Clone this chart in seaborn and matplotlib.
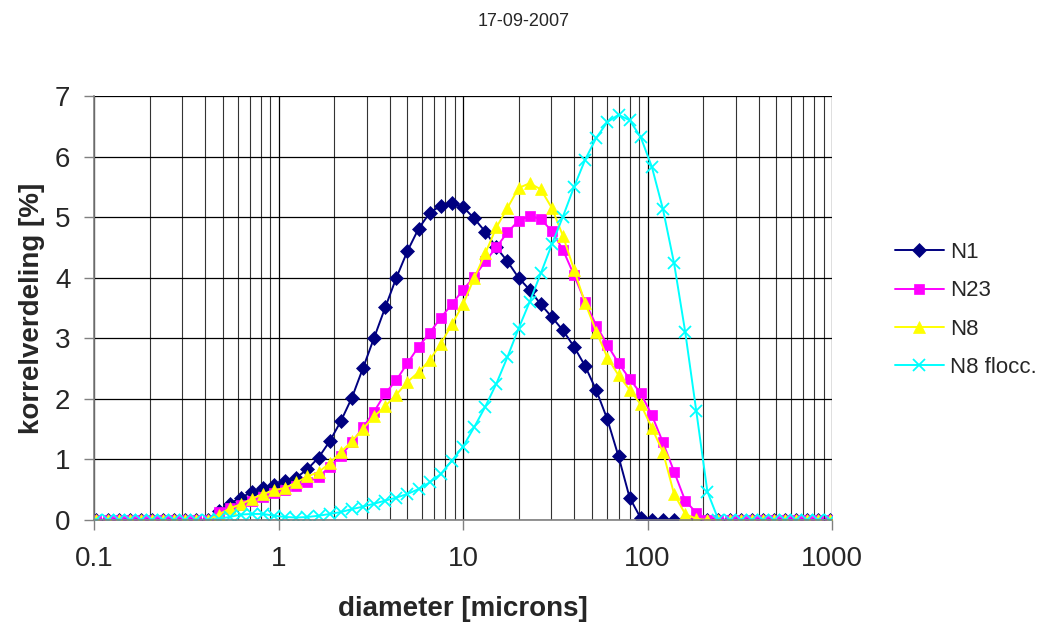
import numpy as np
import pandas as pd
import matplotlib
matplotlib.use("Agg")
import matplotlib.pyplot as plt
import seaborn as sns
from matplotlib.ticker import FixedLocator, NullFormatter, LogLocator

# diameters (microns)
diameter = [0.1031, 0.1184, 0.1360, 0.1563, 0.1795, 0.2062, 0.2368, 0.2721, 0.3125, 0.3590,
            0.4124, 0.4737, 0.5441, 0.6250, 0.7179, 0.8247, 0.9473, 1.088, 1.250, 1.436,
            1.649, 1.895, 2.176, 2.500, 2.872, 3.299, 3.789, 4.353, 5.000, 5.743,
            6.598, 7.579, 8.706, 10.00, 11.49, 13.20, 15.16, 17.41, 20.00, 22.97,
            26.39, 30.31, 34.82, 40.00, 45.95, 52.78, 60.63, 69.64, 80.00, 91.90,
            105.6, 121.3, 139.3, 160.0, 183.8, 211.1, 242.5, 278.6, 320.0, 367.6,
            422.2, 485.0, 557.2, 640.0, 735.2, 844.5, 970.1]

zeros11 = [0.0] * 11

n1 = zeros11 + [0.15, 0.27, 0.37, 0.46, 0.53, 0.57, 0.64, 0.70, 0.84, 1.03,
                1.30, 1.63, 2.02, 2.51, 3.01, 3.51, 4.00, 4.44, 4.81, 5.07,
                5.19, 5.23, 5.17, 4.98, 4.76, 4.50, 4.27, 4.00, 3.80, 3.56,
                3.35, 3.13, 2.86, 2.54, 2.14, 1.66, 1.05, 0.37, 0.03, 0.0,
                0.0, 0.0, 0.0, 0.0, 0.0, 0.0, 0.0, 0.0, 0.0, 0.0,
                0.0, 0.0, 0.0, 0.0, 0.0, 0.0]

n23 = zeros11 + [0.13, 0.19, 0.25, 0.31, 0.38, 0.45, 0.50, 0.56, 0.62, 0.71,
                 0.88, 1.06, 1.28, 1.53, 1.79, 2.09, 2.31, 2.59, 2.86, 3.09,
                 3.34, 3.56, 3.80, 4.01, 4.27, 4.50, 4.75, 4.94, 5.02, 4.97,
                 4.77, 4.46, 4.04, 3.60, 3.21, 2.89, 2.59, 2.33, 2.09, 1.73,
                 1.28, 0.80, 0.32, 0.12, 0.0, 0.0, 0.0, 0.0, 0.0, 0.0,
                 0.0, 0.0, 0.0, 0.0, 0.0, 0.0]

n8 = zeros11 + [0.09, 0.19, 0.26, 0.35, 0.43, 0.49, 0.53, 0.62, 0.72, 0.79,
                0.94, 1.12, 1.30, 1.51, 1.71, 1.88, 2.07, 2.28, 2.44, 2.64,
                2.91, 3.23, 3.56, 3.99, 4.40, 4.83, 5.15, 5.48, 5.56, 5.46,
                5.15, 4.69, 4.13, 3.58, 3.11, 2.68, 2.39, 2.15, 1.91, 1.52,
                1.12, 0.43, 0.10, 0.02, 0.0, 0.0, 0.0, 0.0, 0.0, 0.0,
                0.0, 0.0, 0.0, 0.0, 0.0, 0.0]

n8_flocc = zeros11 + [0.02, 0.05, 0.09, 0.10, 0.10, 0.07, 0.05, 0.04, 0.05, 0.07,
                      0.10, 0.13, 0.18, 0.22, 0.27, 0.32, 0.37, 0.43, 0.51, 0.62,
                      0.76, 0.98, 1.21, 1.53, 1.87, 2.25, 2.69, 3.16, 3.60, 4.07,
                      4.55, 5.01, 5.50, 5.95, 6.31, 6.57, 6.69, 6.60, 6.32, 5.83,
                      5.13, 4.24, 3.11, 1.80, 0.47, 0.0, 0.0, 0.0, 0.0, 0.0,
                      0.0, 0.0, 0.0, 0.0, 0.0, 0.0]

series_names = ["N1", "N23", "N8", "N8 flocc."]
series_values = [n1, n23, n8, n8_flocc]
series_colors = ["#000080", "#FF00FF", "#FFFF00", "#00FFFF"]
series_markers = ["D", "s", "^", "x"]
series_msize = [7, 6.5, 8.5, 8]

x_tick_values = [0.1, 1, 10, 100, 1000]
x_tick_labels = ["0.1", "1", "10", "100", "1000"]
y_tick_values = [0, 1, 2, 3, 4, 5, 6, 7]

title_text = "17-09-2007"
x_label = "diameter [microns]"
y_label = "korrelverdeling [%]"

sns.set_theme(style="white")
plt.rcParams["font.family"] = ["Liberation Sans", "DejaVu Sans"]

frames = []
for name, vals in zip(series_names, series_values):
    frames.append(pd.DataFrame({"diameter": diameter, "value": vals, "series": name}))
df = pd.concat(frames, ignore_index=True)

fig = plt.figure(figsize=(10.47, 6.28), dpi=100)
ax = fig.add_axes([94 / 1047, 1 - 520 / 628, (832 - 94) / 1047, (520 - 96) / 628])

for name, color, marker, ms in zip(series_names, series_colors, series_markers, series_msize):
    sub = df[df["series"] == name]
    sns.lineplot(data=sub, x="diameter", y="value", ax=ax, color=color,
                 marker=marker, markersize=ms, linewidth=1.4,
                 markeredgecolor=color, markeredgewidth=1.3 if marker == "x" else 0.5,
                 label=name, estimator=None, sort=False)

ax.set_xscale("log")
ax.set_xlim(0.1, 1000)
ax.set_ylim(0, 7)

ax.xaxis.set_major_locator(FixedLocator(x_tick_values))
ax.set_xticklabels(x_tick_labels)
ax.xaxis.set_minor_locator(LogLocator(base=10, subs=np.arange(2, 10)))
ax.xaxis.set_minor_formatter(NullFormatter())
ax.set_yticks(y_tick_values)
ax.set_yticklabels([str(v) for v in y_tick_values])

ax.grid(True, which="major", axis="both", color="black", linewidth=0.9)
ax.grid(True, which="minor", axis="x", color="#333333", linewidth=0.8)
ax.set_axisbelow(True)

for side in ["top", "right"]:
    ax.spines[side].set_visible(False)
for side in ["left", "bottom"]:
    ax.spines[side].set_visible(True)
    ax.spines[side].set_color("#808080")
    ax.spines[side].set_linewidth(1.2)

ax.tick_params(axis="x", which="major", direction="out", length=7, width=1, color="#808080",
               labelsize=20, pad=12, bottom=True)
ax.tick_params(axis="x", which="minor", length=0)
ax.tick_params(axis="y", which="major", direction="out", length=7, width=1, color="#808080",
               labelsize=20, pad=10, left=True)

ax.set_xlabel(x_label, fontsize=20, fontweight="bold", labelpad=17)
ax.set_ylabel(y_label, fontsize=20, fontweight="bold", labelpad=7)

fig.text(0.5, 1 - 22 / 628, title_text, ha="center", va="center", fontsize=13)

leg = ax.legend(loc="center left", bbox_to_anchor=(1.085, 0.495), frameon=False,
                fontsize=16, handlelength=2.2, labelspacing=0.78, handletextpad=0.3,
                borderaxespad=0, borderpad=0)

fig.savefig("out.png", dpi=100)
